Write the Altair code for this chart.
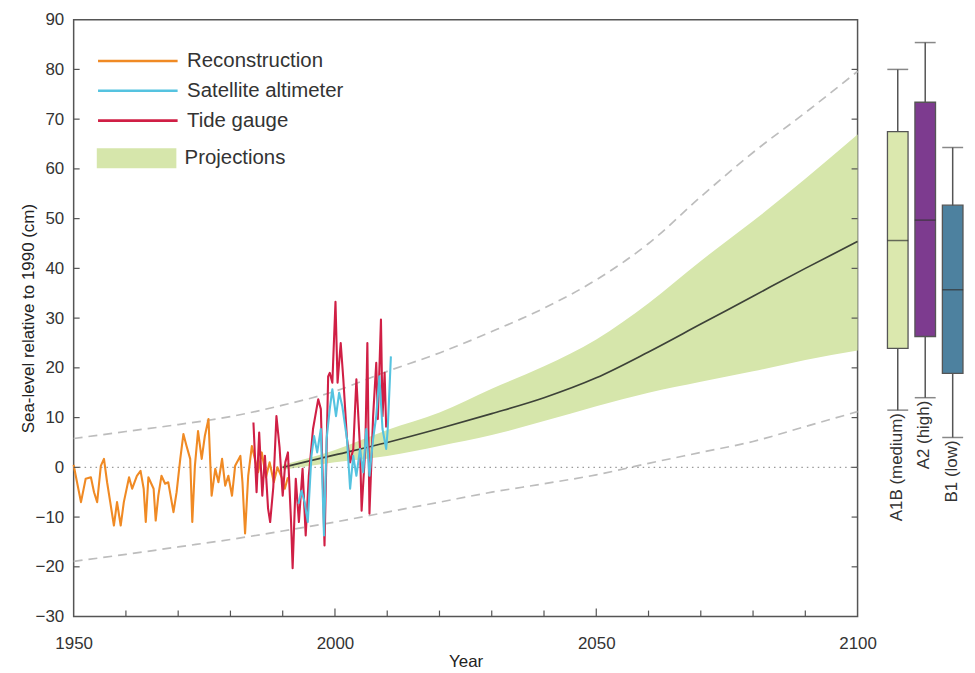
import altair as alt
import pandas as pd

FONT = "Liberation Sans"

# ---------------- observed series ----------------
recon_years = [1950.0, 1950.4, 1951.4, 1952.3, 1953.3, 1953.9, 1954.5, 1955.2, 1955.8, 1956.4,
               1957.0, 1957.7, 1958.3, 1959.0, 1959.6, 1960.6, 1961.2, 1962.1, 1962.8, 1963.4,
               1963.8, 1964.3, 1965.3, 1965.7, 1966.2, 1966.8, 1967.5, 1968.1, 1969.1, 1969.7,
               1970.4, 1971.0, 1971.6, 1972.3, 1972.7, 1973.2, 1973.8, 1974.5, 1975.1, 1975.8,
               1976.4, 1977.1, 1977.7, 1978.4, 1979.0, 1979.6, 1980.3, 1980.9, 1981.9, 1982.3,
               1982.8, 1983.4, 1984.1, 1984.6, 1985.3, 1986.0, 1986.8, 1987.5, 1988.3, 1989.0,
               1989.8, 1990.4, 1991.0]
recon_vals = [0.5, -1.7, -7.0, -2.3, -2.0, -5.0, -7.0, 0.3, 1.7, -3.0,
              -7.0, -11.7, -7.0, -11.7, -7.0, -2.0, -4.3, -1.7, -0.7, -4.3,
              -11.0, -2.0, -4.3, -10.7, -5.7, -1.7, -3.3, -3.0, -9.0, -5.0,
              1.7, 6.7, 4.3, 1.7, -11.0, 0.3, 7.3, 1.7, 6.3, 9.7,
              -5.7, -0.3, -3.0, 1.7, -3.7, -1.7, -5.7, 0.3, 2.3, -3.0,
              -13.3, -1.7, 4.3, 2.0, -1.0, 3.0, -2.0, 1.0, -3.0, 0.0,
              -2.0, -4.3, -2.0]

tide_years = [1984.4, 1985.0, 1985.5, 1986.1, 1986.6, 1987.2, 1987.6, 1988.2, 1988.8, 1989.4,
              1990.0, 1990.5, 1991.0, 1991.6, 1991.9, 1992.5, 1993.1, 1993.8, 1994.4, 1995.0,
              1995.8, 1996.8, 1997.3, 1998.0, 1998.7, 1999.0, 1999.5, 2000.1, 2000.5, 2001.1,
              2001.6, 2002.3, 2002.9, 2003.5, 2004.1, 2004.8, 2005.1, 2005.8, 2006.2, 2006.6,
              2007.3, 2007.9, 2008.2, 2008.8, 2009.1, 2009.5, 2009.8]
tide_vals = [9.0, -5.0, 7.0, -5.7, 2.3, -8.3, -11.0, -4.0, 10.3, 4.0,
             -5.7, 1.0, 3.0, -11.0, -20.3, -2.3, -11.0, -0.3, -13.7, -1.7,
             7.7, 13.7, 11.7, -15.7, 18.3, 19.0, 17.0, 33.3, 17.0, 25.0,
             17.7, 5.7, 1.0, 3.7, 17.7, 3.7, -8.7, 3.7, 25.0, -9.3,
             10.3, 21.0, 9.7, 29.7, 10.3, 19.0, 8.0]

sat_years = [1993.0, 1993.6, 1994.2, 1994.8, 1995.5, 1996.0, 1996.6, 1997.3, 1997.9, 1998.4,
             1999.0, 1999.5, 2000.2, 2000.8, 2001.4, 2002.3, 2002.9, 2003.5, 2004.1, 2004.8,
             2005.4, 2006.0, 2006.6, 2007.3, 2007.9, 2008.5, 2009.1, 2009.8, 2010.1, 2010.7]
sat_vals = [-7.3, -4.7, -7.0, -11.0, 2.3, 6.3, 3.0, 7.7, -13.7, 5.7,
            11.7, 15.7, 10.3, 15.0, 12.3, 5.7, -4.3, 2.3, -1.7, 3.7,
            -1.0, 7.7, -1.7, 5.7, 10.3, 18.3, 7.7, 3.7, 7.7, 22.3]

# ---------------- projections ----------------
proj_years = [1990, 2000, 2010, 2020, 2030, 2040, 2050, 2060, 2070, 2080, 2090, 2100]
proj_mid = [0.0, 2.5, 5.0, 7.8, 10.8, 14.0, 18.0, 23.2, 28.8, 34.4, 40.0, 45.4]
proj_low = [-0.5, 1.0, 2.3, 4.3, 6.5, 9.3, 12.3, 15.0, 17.2, 19.3, 21.6, 23.5]
proj_high = [0.5, 3.5, 7.5, 11.0, 15.8, 20.3, 25.7, 33.0, 41.5, 49.5, 58.0, 66.9]

env_years = [1950, 1960, 1970, 1980, 1990, 2000, 2010, 2020, 2030, 2040, 2050, 2060, 2070, 2080, 2090, 2100]
env_upper = [5.8, 7.2, 8.6, 10.2, 12.5, 15.3, 19.3, 23.0, 27.3, 32.0, 37.7, 45.0, 54.4, 63.3, 71.3, 79.6]
env_lower = [-18.9, -17.5, -16.0, -14.5, -12.8, -11.0, -9.0, -7.0, -5.0, -3.3, -1.5, 0.8, 3.0, 5.2, 8.2, 11.2]

# ---------------- scenario box plots ----------------
scenarios = ["A1B", "A2", "B1"]
scenario_labels = ["A1B (medium)", "A2 (high)", "B1 (low)"]
whisk_low = [11.5, 14.0, 6.0]
box_q1 = [23.9, 26.3, 18.9]
box_med = [45.6, 49.7, 35.7]
box_q3 = [67.5, 73.4, 52.7]
whisk_high = [80.0, 85.4, 64.3]
scenario_colors = ["#dbe8ae", "#7d3b8f", "#4d819f"]

# ---------------- axes ----------------
x_labels = [1950, 2000, 2050, 2100]
x_minor = [1960, 1970, 1980, 1990, 2010, 2020, 2030, 2040, 2060, 2070, 2080, 2090]
x_major = [2000, 2050]
y_labels = [-30, -20, -10, 0, 10, 20, 30, 40, 50, 60, 70, 80, 90]

series_names = ["Reconstruction", "Satellite altimeter", "Tide gauge"]
series_colors = ["#f08a24", "#55c3e0", "#d01f45"]

W, H = 788, 600
xs = alt.Scale(domain=[1950, 2100], nice=False, zero=False)
ys = alt.Scale(domain=[-30, 90], nice=False, zero=False)

x_enc = alt.X("year:Q", scale=xs,
              axis=alt.Axis(values=x_labels, format="d", title="Year", labelPadding=19,
                            titlePadding=2, tickSize=0, labelFlush=False))
y_enc = alt.Y("value:Q", scale=ys,
              axis=alt.Axis(values=y_labels, title="Sea-level relative to 1990 (cm)",
                            labelPadding=10, titlePadding=-2, tickSize=0, labelFlush=False))

stroke_legend = alt.Legend(title=None, orient="none", legendX=53, legendY=30,
                           symbolType="M-4,0H4", symbolSize=400, symbolStrokeWidth=2.6,
                           labelFontSize=20.5, labelFont=FONT, labelColor="#333",
                           labelOffset=38, rowPadding=8, padding=0, labelLimit=400)
stroke_enc = alt.Stroke("series:N", scale=alt.Scale(domain=series_names, range=series_colors),
                        legend=stroke_legend)

fill_legend = alt.Legend(title=None, orient="none", legendX=53, legendY=129,
                         symbolType="M-4,-1H4V1H-4Z", symbolSize=400, symbolStrokeWidth=0,
                         labelFontSize=20.5, labelFont=FONT, labelColor="#333",
                         labelOffset=38, padding=0, labelLimit=400)

proj_df = pd.DataFrame({"year": proj_years, "value": proj_low, "high": proj_high,
                        "series": "Projections"})
mid_df = pd.DataFrame({"year": proj_years, "value": proj_mid})
env_df = pd.concat([
    pd.DataFrame({"year": env_years, "value": env_upper, "bound": "upper"}),
    pd.DataFrame({"year": env_years, "value": env_lower, "bound": "lower"}),
])
recon_df = pd.DataFrame({"year": recon_years, "value": recon_vals, "series": "Reconstruction"})
tide_df = pd.DataFrame({"year": tide_years, "value": tide_vals, "series": "Tide gauge"})
sat_df = pd.DataFrame({"year": sat_years, "value": sat_vals, "series": "Satellite altimeter"})

band = alt.Chart(proj_df).mark_area(opacity=1, interpolate="monotone").encode(
    x=x_enc, y=y_enc, y2="high:Q",
    fill=alt.Fill("series:N", scale=alt.Scale(domain=["Projections"], range=["#d6e6ab"]),
                  legend=fill_legend),
)

mid = alt.Chart(mid_df).mark_line(color="#3d4238", strokeWidth=1.7,
                                  interpolate="monotone").encode(x=x_enc, y=y_enc)

env = alt.Chart(env_df).mark_line(color="#bdbdbd", strokeWidth=1.7, strokeDash=[9, 6],
                                  interpolate="monotone").encode(
    x=x_enc, y=y_enc, detail="bound:N")

zero_df = pd.DataFrame({"year": [1950, 2100], "value": [0, 0]})
zero = alt.Chart(zero_df).mark_line(color="#9a9a9a", strokeWidth=1.3, strokeDash=[1.5, 4]).encode(
    x=x_enc, y=y_enc)

def obs(df):
    return alt.Chart(df).mark_line(strokeWidth=2.1, strokeJoin="round").encode(
        x=x_enc, y=y_enc, stroke=stroke_enc)

xticks_minor = alt.Chart(pd.DataFrame({"year": x_minor})).mark_rule(color="#555", strokeWidth=1.2).encode(
    x=alt.X("year:Q", scale=xs), y=alt.value(H), y2=alt.value(H - 6))
xticks_major = alt.Chart(pd.DataFrame({"year": x_major})).mark_rule(color="#555", strokeWidth=1.2).encode(
    x=alt.X("year:Q", scale=xs), y=alt.value(H), y2=alt.value(H - 8))
yt_df = pd.DataFrame({"value": y_labels[1:-1]})
yticks_l = alt.Chart(yt_df).mark_rule(color="#555", strokeWidth=1.2).encode(
    y=alt.Y("value:Q", scale=ys), x=alt.value(0), x2=alt.value(6))
yticks_r = alt.Chart(yt_df).mark_rule(color="#555", strokeWidth=1.2).encode(
    y=alt.Y("value:Q", scale=ys), x=alt.value(W - 6), x2=alt.value(W))

main = alt.layer(band, mid, env, zero, obs(recon_df), obs(tide_df), obs(sat_df),
                 xticks_minor, xticks_major, yticks_l, yticks_r).properties(
    width=W, height=H,
    view=alt.ViewBackground(stroke="#555", strokeWidth=1.5))

# ---------------- box panel ----------------
box_df = pd.DataFrame({"scenario": scenarios, "label": scenario_labels, "lo": whisk_low,
                       "q1": box_q1, "med": box_med, "q3": box_q3, "hi": whisk_high})
bx = alt.X("scenario:N", scale=alt.Scale(domain=scenarios, paddingInner=0.25, paddingOuter=0.11),
           axis=None)
by = alt.Scale(domain=[-30, 90], nice=False, zero=False)

whisk = alt.Chart(box_df).mark_rule(color="#555", strokeWidth=1.5).encode(
    x=bx, y=alt.Y("lo:Q", scale=by, axis=None), y2="hi:Q")
boxes = alt.Chart(box_df).mark_bar(stroke="#555", strokeWidth=1.3).encode(
    x=bx, y=alt.Y("q1:Q", scale=by, axis=None), y2="q3:Q",
    fill=alt.Fill("scenario:N", scale=alt.Scale(domain=scenarios, range=scenario_colors),
                  legend=None))
cap_lo = alt.Chart(box_df).mark_tick(color="#555", thickness=1.5, size=21, orient="horizontal").encode(
    x=bx, y=alt.Y("lo:Q", scale=by, axis=None))
cap_hi = alt.Chart(box_df).mark_tick(color="#555", thickness=1.5, size=21, orient="horizontal").encode(
    x=bx, y=alt.Y("hi:Q", scale=by, axis=None))
med_t = alt.Chart(box_df).mark_tick(color="#333", thickness=1.5, size=21, orient="horizontal").encode(
    x=bx, y=alt.Y("med:Q", scale=by, axis=None))
labels = alt.Chart(box_df).mark_text(angle=270, align="right", baseline="middle", dx=-3, dy=-1,
                                      font=FONT, fontSize=17, color="#333").encode(
    x=bx, y=alt.Y("lo:Q", scale=by, axis=None), text="label:N")

boxpanel = alt.layer(whisk, boxes, cap_lo, cap_hi, med_t, labels).properties(
    width=82, height=H, view=alt.ViewBackground(stroke="transparent"))

chart = alt.hconcat(main, boxpanel, spacing=27, bounds="flush").resolve_scale(
    fill="independent", x="independent", y="independent"
).properties(
    padding={"left": 10, "top": 0, "right": 0, "bottom": 0}
).configure_axis(
    labelFont=FONT, titleFont=FONT, labelFontSize=17, titleFontSize=17,
    labelColor="#333", titleColor="#222", titleFontWeight="normal",
    grid=False, domain=False, ticks=False,
).configure_view(stroke="#555")

chart.save("out.html", embed_options={"renderer": "svg", "actions": False})
